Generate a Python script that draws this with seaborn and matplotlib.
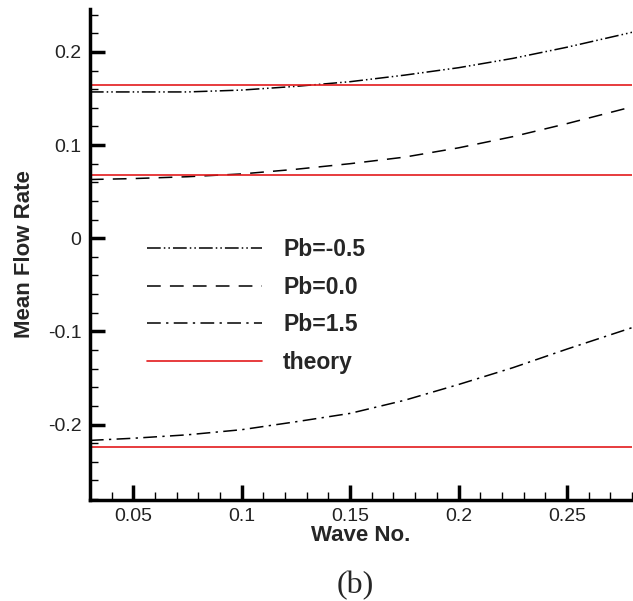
import numpy as np
import pandas as pd
import matplotlib
matplotlib.use("Agg")
import matplotlib.pyplot as plt
import seaborn as sns
from matplotlib.ticker import MultipleLocator, FuncFormatter

# ---- data ----
wave_no = [0.03, 0.05, 0.075, 0.10, 0.125, 0.15, 0.175, 0.20, 0.225, 0.25, 0.28]
pb_m05 = [0.157, 0.157, 0.157, 0.159, 0.163, 0.168, 0.175, 0.183, 0.193, 0.205, 0.221]
pb_00 = [0.063, 0.064, 0.066, 0.069, 0.074, 0.080, 0.087, 0.097, 0.109, 0.123, 0.141]
pb_15 = [-0.217, -0.2147, -0.211, -0.2055, -0.197, -0.188, -0.174, -0.157, -0.139, -0.119, -0.096]
theory = [0.1648, 0.0674, -0.2244]
series_labels = ["Pb=-0.5", "Pb=0.0", "Pb=1.5"]

sns.set_style("ticks")
plt.rcParams['font.family'] = ['Liberation Sans', 'DejaVu Sans']

fig = plt.figure(figsize=(6.33, 6.01), dpi=100)
ax = fig.add_axes([0.142, 0.168, 0.8565, 0.817])

styles = [(0, (9, 2, 1, 2, 1, 2)), (0, (9, 6)), (0, (9, 3.5, 1.5, 3.5))]
for vals, lab, ls in zip([pb_m05, pb_00, pb_15], series_labels, styles):
    df = pd.DataFrame({"x": wave_no, "y": vals})
    sns.lineplot(data=df, x="x", y="y", ax=ax, color="black", lw=1.1,
                 linestyle=ls, label=lab)

for i, t in enumerate(theory):
    ax.axhline(t, color="#e31a1c", lw=1.2, label="theory" if i == 0 else None)

ax.set_xlim(0.03, 0.28)
ax.set_ylim(-0.281, 0.246)

ax.xaxis.set_major_locator(MultipleLocator(0.05))
ax.xaxis.set_minor_locator(MultipleLocator(0.01))
ax.yaxis.set_major_locator(MultipleLocator(0.1))
ax.yaxis.set_minor_locator(MultipleLocator(0.02))

def fmt(v, pos):
    s = f"{v:.2f}".rstrip('0').rstrip('.')
    if s in ("-0", "0.0"):
        s = "0"
    return s
ax.xaxis.set_major_formatter(FuncFormatter(fmt))
ax.yaxis.set_major_formatter(FuncFormatter(fmt))

for side in ("top", "right"):
    ax.spines[side].set_visible(False)
for side in ("left", "bottom"):
    ax.spines[side].set_linewidth(2.5)
    ax.spines[side].set_color("black")

ax.tick_params(which="major", direction="in", length=11, width=2.5, labelsize=14,
               colors="black", pad=6)
ax.tick_params(which="minor", direction="in", length=6, width=1.0, colors="black")
for lbl in ax.get_xticklabels() + ax.get_yticklabels():
    lbl.set_color("#222222")

ax.set_xlabel("Wave No.", fontsize=16, fontweight="bold", labelpad=0)
ax.set_ylabel("Mean Flow Rate", fontsize=16, fontweight="bold", labelpad=9)

leg = ax.legend(loc="upper left", bbox_to_anchor=(0.068, 0.575), frameon=False,
                handlelength=5.0, handletextpad=0.92, labelspacing=0.63,
                prop={"size": 16.5, "weight": "bold"})

fig.text(0.561, 0.025, "(b)", fontsize=23, family=["Liberation Serif", "DejaVu Serif"],
         ha="center", va="center")

fig.savefig("out.png", dpi=100)
